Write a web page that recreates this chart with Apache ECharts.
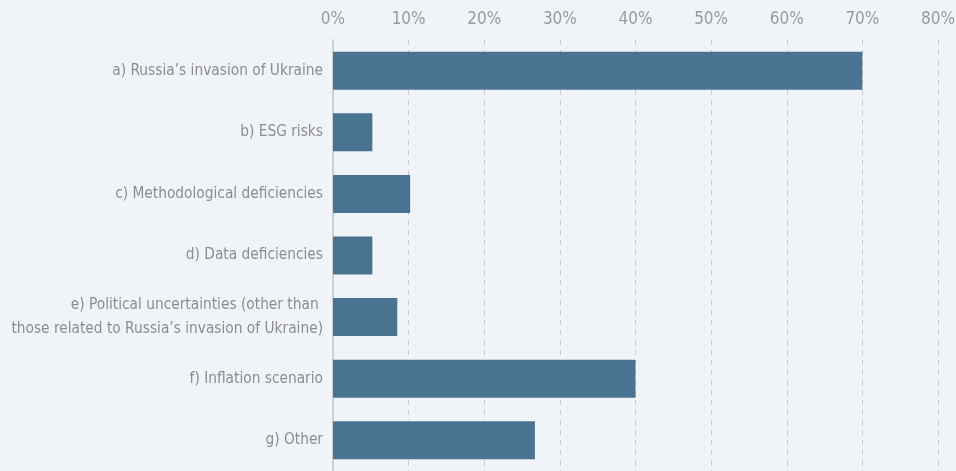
<!DOCTYPE html>
<html><head><meta charset="utf-8">
<script src="https://cdn.jsdelivr.net/npm/echarts@6/dist/echarts.min.js"></script>
<style>html,body{margin:0;padding:0;background:#f0f3f8;}#c{width:956px;height:471px;}</style>
</head><body><div id="c"></div>
<script>
const categories = [
  "a) Russia’s invasion of Ukraine",
  "b) ESG risks",
  "c) Methodological deficiencies",
  "d) Data deficiencies",
  "e) Political uncertainties (other than \nthose related to Russia’s invasion of Ukraine)",
  "f) Inflation scenario",
  "g) Other"
];
const values = [70, 5.2, 10.2, 5.2, 8.5, 40, 26.7];
const tickMax = 80;
const tickStep = 10;

const chart = echarts.init(document.getElementById('c'), null, {renderer:'canvas'});
const font = '"Liberation Sans Narrow", "DejaVu Sans Condensed", sans-serif';
chart.setOption({
  backgroundColor: '#f0f3f8',
  animation: false,
  grid: {left: 333, right: 18, top: 40, bottom: 0, containLabel: false, outerBoundsMode: 'none'},
  xAxis: {
    type: 'value', position: 'top', min: 0, max: tickMax, interval: tickStep,
    axisLine: {show: false},
    axisTick: {show: false},
    axisLabel: {formatter: '{value}%', color: '#9a9a9a', fontSize: 17, fontFamily: font, margin: 12},
    splitLine: {show: true, lineStyle: {color: '#c9cbcf', type: [5, 5], width: 1}}
  },
  yAxis: {
    type: 'category', inverse: true, data: categories,
    axisLine: {show: true, lineStyle: {color: '#d0d0d0', width: 2}},
    axisTick: {show: false},
    axisLabel: {color: '#8c8c8c', fontSize: 15.3, fontFamily: font, margin: 10, align: 'right', lineHeight: 24}
  },
  series: [{
    type: 'bar', data: values, barWidth: 38,
    itemStyle: {color: '#4a7391'}
  }]
});
</script></body></html>
